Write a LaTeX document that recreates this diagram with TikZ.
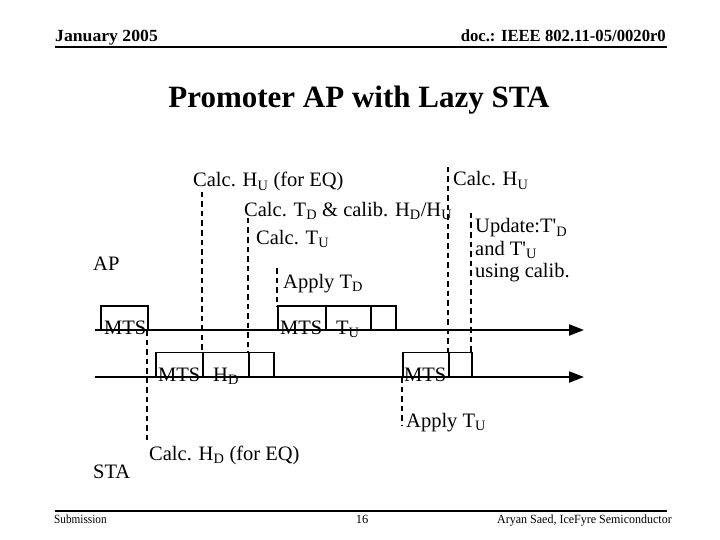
\documentclass[tikz,border=0pt]{standalone}
\usepackage{fontspec}
\setmainfont{Liberation Serif}
\usetikzlibrary{arrows.meta}
\begin{document}
\begin{tikzpicture}[x=1pt,y=-1pt,
  lbl/.style={font=\fontsize{20.5}{24}\selectfont, anchor=base west, inner sep=0pt},
  boxtxt/.style={font=\fontsize{20.5}{24}\selectfont, anchor=base west, inner sep=0pt},
  slotbox/.style={draw, line width=1.5pt, inner sep=0pt, anchor=south west},
  dsh/.style={line width=1.5pt, dash pattern=on 5.5pt off 4pt},
  tline/.style={line width=2pt, -{Triangle[length=15pt,width=11pt]}},
  rule/.style={line width=2pt},
  hdr/.style={font=\bfseries\fontsize{17}{19}\selectfont, inner sep=0pt},
  ftr/.style={font=\fontsize{12.5}{14}\selectfont, inner sep=0pt}]
\useasboundingbox (0,0) rectangle (720,540);

% header
\node[hdr, anchor=base west] (hdl) at (55,42) {\scalebox{1.04}[1]{January 2005}};
\node[hdr, anchor=base east] (hdr) at (666,42) {\scalebox{0.98}[1]{doc.: IEEE 802.11-05/0020r0}};
\coordinate (hl1) at (55,47);
\coordinate (hl2) at (667,47);
\draw[rule] (hl1) -- (hl2);

% title
\node[font=\bfseries\fontsize{31}{34}\selectfont, anchor=base, inner sep=0pt] (title) at (359,108) {Promoter AP with Lazy STA};

% footer
\coordinate (fl1) at (55,511);
\coordinate (fl2) at (667,511);
\draw[rule] (fl1) -- (fl2);
\node[ftr, anchor=base west] (fsub) at (54,523) {\scalebox{0.9}[1]{Submission}};
\node[ftr, anchor=base] (fnum) at (362,523) {16};
\node[ftr, anchor=base east] (fauth) at (672,523) {\scalebox{0.96}[1]{Aryan Saed, IceFyre Semiconductor}};

% timelines
\coordinate (apS) at (95,330);
\coordinate (apE) at (584,330);
\coordinate (stS) at (95,377);
\coordinate (stE) at (584,377);
\draw[tline] (apS) -- (apE);
\draw[tline] (stS) -- (stE);

% side labels
\node[lbl] (ap) at (93,270) {AP};
\node[lbl] (sta) at (93,478) {STA};

% AP boxes
\node[slotbox, minimum width=47pt, minimum height=23.3pt] (a1) at (100,330) {};
\node[slotbox, minimum width=48pt, minimum height=23.3pt] (a2) at (277,330) {};
\node[slotbox, minimum width=45pt, minimum height=23.3pt] (a3) at (325,330) {};
\node[slotbox, minimum width=25pt, minimum height=23.3pt] (a4) at (370,330) {};
\node[boxtxt] (ta1) at (104,334) {MTS};
\node[boxtxt] (ta2) at (280,334) {MTS};
\node[boxtxt] (ta3) at (336,334) {T\textsubscript{U}};

% STA boxes
\node[slotbox, minimum width=47pt, minimum height=24pt] (s1) at (155,377) {};
\node[slotbox, minimum width=46pt, minimum height=24pt] (s2) at (202,377) {};
\node[slotbox, minimum width=25pt, minimum height=24pt] (s3) at (248,377) {};
\node[slotbox, minimum width=46pt, minimum height=24pt] (s4) at (402,377) {};
\node[slotbox, minimum width=23pt, minimum height=24pt] (s5) at (448,377) {};
\node[boxtxt] (ts1) at (158,381) {MTS};
\node[boxtxt] (ts2) at (213,381) {H\textsubscript{D}};
\node[boxtxt] (ts4) at (404,381) {MTS};

% dashed markers
\coordinate (d1a) at (147,330); \coordinate (d1b) at (147,443);
\coordinate (d2a) at (202,192); \coordinate (d2b) at (202,353);
\coordinate (d3a) at (248,218); \coordinate (d3b) at (248,353);
\coordinate (d4a) at (277,268); \coordinate (d4b) at (277,307);
\coordinate (d5a) at (448,167); \coordinate (d5b) at (448,353);
\coordinate (d6a) at (471,213); \coordinate (d6b) at (471,353);
\coordinate (d7a) at (402,377); \coordinate (d7b) at (402,426);
\foreach \n in {1,...,7} {\draw[dsh] (d\n a) -- (d\n b);}

% event labels
\node[lbl] (l1) at (193,187) {Calc. H\textsubscript{U} (for EQ)};
\node[lbl] (l2) at (244,216) {Calc. T\textsubscript{D} \& calib. H\textsubscript{D}/H\textsubscript{U}};
\node[lbl] (l3) at (256,244) {Calc. T\textsubscript{U}};
\node[lbl] (l4) at (283,288) {Apply T\textsubscript{D}};
\node[lbl] (l5) at (453,186) {Calc. H\textsubscript{U}};
\node[lbl] (l6) at (475,233) {Update:T\textquotesingle\textsubscript{D}};
\node[lbl] (l7) at (475,255) {and T\textquotesingle\textsubscript{U}};
\node[lbl] (l8) at (475,277) {using calib.};
\node[lbl] (l9) at (406,427) {Apply T\textsubscript{U}};
\node[lbl] (l10) at (149,460) {Calc. H\textsubscript{D} (for EQ)};
\end{tikzpicture}
\end{document}
